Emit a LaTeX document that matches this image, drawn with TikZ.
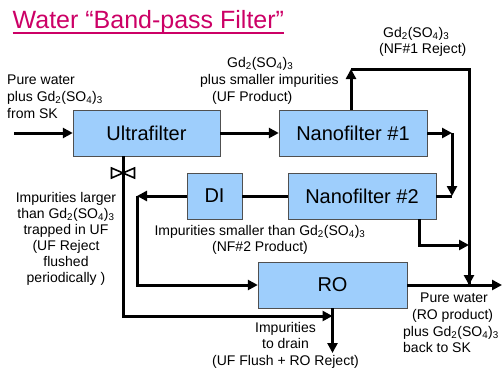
\documentclass[tikz,border=0pt]{standalone}
\usepackage{fontspec}
\setmainfont{Liberation Sans}
\usepackage{tikz}
\usetikzlibrary{arrows.meta,positioning}

\definecolor{titlepink}{RGB}{204,0,102}
\definecolor{unitblue}{RGB}{158,206,252}
\definecolor{unitedge}{RGB}{80,80,80}

\newcommand{\gdsulf}{Gd\textsubscript{2}(SO\textsubscript{4})\textsubscript{3}}

\begin{document}
\begin{tikzpicture}[x=10pt, y=-10pt]
			\tikzstyle{Unit}	= [rectangle, draw=unitedge, fill=unitblue, minimum height=46pt, inner sep=0pt, font=\fontsize{20}{24}\selectfont]
			\tikzstyle{Label}	= [inner sep=0pt, font=\fontsize{14}{16.6}\selectfont]
			\tikzstyle{Pipe}	= [line width=3pt, black]
			\tikzstyle{Flow}	= [Pipe, -{Triangle[length=10pt, width=10pt]}]
			\tikzstyle{Valve}	= [line width=1.6pt, black, fill=white, line join=miter]

			\useasboundingbox (0, 0) rectangle (50.2, 37.2);

			% title
			\node (title) at (1.25, 2.85) [anchor=base west, inner sep=0pt, text=titlepink, font=\fontsize{25}{30}\selectfont] {Water “Band-pass Filter”};
			\draw [titlepink, line width=2pt] ([yshift=-4.5pt]title.base west) to ([yshift=-4.5pt]title.base east);

			% filter units
			\node (uf)  at (14.65, 13.3) [Unit, minimum width=147pt] {Ultrafilter};
			\node (nf1) at (35.3, 13.3)  [Unit, minimum width=148pt] {Nanofilter \#1};
			\node (nf2) at (36.2, 19.6)  [Unit, minimum width=148pt] {Nanofilter \#2};
			\node (di)  at (21.45, 19.6) [Unit, minimum width=55pt] {DI};
			\node (ro)  at (33.25, 28.5) [Unit, minimum width=149pt] {RO};

			% bends and ends of the pipes
			\coordinate (feed)   at (1.4, 13.3);
			\coordinate (rej1)   at (35.1, 6.9);
			\coordinate (rej2)   at (46.9, 6.9);
			\coordinate (join1)  at (46.9, 28.5);
			\coordinate (turn1)  at (45.2, 13.3);
			\coordinate (turn2)  at (45.2, 19.6);
			\coordinate (bypass) at (41.9, 24.5);
			\coordinate (join2)  at (46.9, 24.5);
			\coordinate (back)   at (13.7, 19.6);
			\coordinate (flush)  at (12.3, 31.6);
			\coordinate (drain)  at (33.25, 35.3);
			\coordinate (out)    at (50.2, 28.5);

			\draw [Flow] (feed) to (uf.west);
			\draw [Flow] (uf.east) to (nf1.west);
			\draw [Pipe] (rej1) -- (rej2) -- (join1);
			\draw [Flow] (nf1.north -| rej1) to (rej1);
			\draw [Flow] (rej2) to (join1);
			\draw [Flow] (nf1.east) to (turn1);
			\draw [Flow] (turn1) to (turn2);
			\draw [Pipe] (nf2.east) to (turn2);
			\draw [Flow] (nf2.south -| bypass) |- (join2);
			\draw [Pipe] (nf2.west) to (di.east);
			\draw [Flow] (di.west) to (back);
			\draw [Flow] (back) |- (ro.west);
			\draw [Flow] (uf.south -| flush) -- (flush) -- (flush -| ro.south);
			\draw [Flow] (ro.south) to (drain);
			\draw [Flow] (ro.east) to (out);

			% valve on the UF flush line
			\draw [Valve] (11.15, 16.8) -- (13.45, 17.8) -- (13.45, 16.8) -- (11.15, 17.8) -- cycle;

			% stream labels
			\node (feedtext) at (0.7, 7.5)   [Label, anchor=north west, align=left] {Pure water\\plus \gdsulf\\from SK};
			\node (uftext)   at (20.0, 5.7)  [Label, anchor=north west, align=left] {\hspace*{27pt}\gdsulf\\[1pt]plus smaller impurities\\\hspace*{12pt}(UF Product)};
			\node (rejtext)  at (37.9, 2.7)  [Label, anchor=north west, align=left] {\hspace*{4pt}\gdsulf\\(NF\#1 Reject)};
			\node (ufrejtext) at (6.6, 19.2) [Label, anchor=north, align=center, font=\fontsize{14}{16.1}\selectfont] {Impurities larger\\than \gdsulf\\trapped in UF\\(UF Reject\\flushed\\periodically )};
			\node (nf2text)  at (26.0, 22.5) [Label, anchor=north, align=center] {Impurities smaller than \gdsulf\\(NF\#2 Product)};
			\node (draintext) at (28.55, 32.2) [Label, anchor=north, align=center] {Impurities\\to drain\\(UF Flush + RO Reject)};
			\node (rotext)   at (40.3, 29.3) [Label, anchor=north west, align=left] {\hspace*{17pt}Pure water\\\hspace*{9pt}(RO product)\\plus \gdsulf\\back to SK};
		\end{tikzpicture}
\end{document}
